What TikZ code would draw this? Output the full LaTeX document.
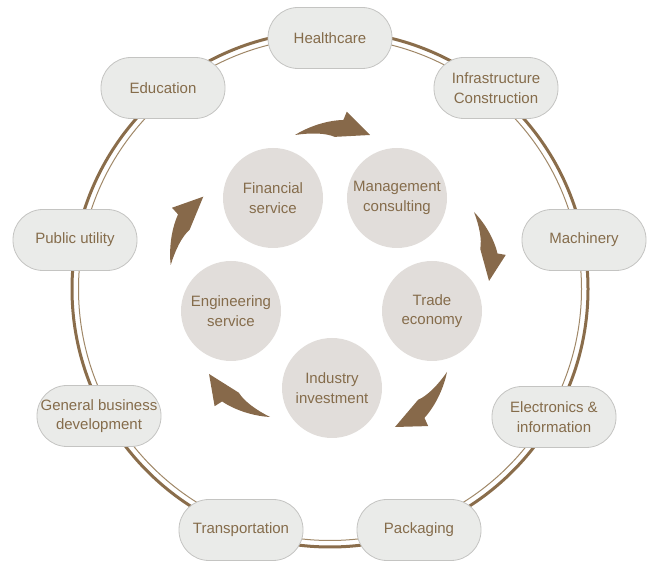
\documentclass[tikz,border=0pt]{standalone}
\usepackage{fontspec}
\setmainfont{Liberation Sans}
\definecolor{txt}{HTML}{856C4B}
\definecolor{arr}{HTML}{87694A}
\definecolor{ringc}{HTML}{8A6D4B}
\definecolor{ringthin}{HTML}{A08868}
\definecolor{pillfill}{HTML}{EAEBE9}
\definecolor{pilldraw}{HTML}{C4C4C2}
\definecolor{circfill}{HTML}{E1DDDA}
\newcommand\fatarr[3]{\fill[arr, shift={(#1)}, rotate=#2, scale=#3] (0,0) .. controls (0.15,0.095) and (0.4,0.195) .. (0.645,0.2) -- (0.69,0.31) -- (1,0) -- (0.53,-0.025) .. controls (0.4,0.03) and (0.2,0.03) .. cycle;}
\begin{document}
\begin{tikzpicture}[x=1pt,y=1pt,
  pill/.style={draw=pilldraw, line width=0.8pt, fill=pillfill, rounded corners=30pt,
    minimum width=124pt, minimum height=61pt, text=txt, align=center,
    font=\fontsize{15}{19.5}\selectfont, inner sep=0pt},
  bubble/.style={circle, fill=circfill, minimum size=100pt, text=txt, align=center,
    font=\fontsize{15}{19.5}\selectfont, inner sep=0pt}]
\useasboundingbox (0,0) rectangle (648,561);
\coordinate (ctr) at (330,272);
\draw[ringc, line width=3pt] (ctr) circle (258);
\draw[ringthin, line width=1pt] (ctr) circle (251.5);

\node[pill] (health) at (330,523) {Healthcare};
\node[pill] (infra) at (496,473) {Infrastructure\\Construction};
\node[pill] (edu) at (163,473) {Education};
\node[pill] (mach) at (584,321) {Machinery};
\node[pill] (pub) at (75,321) {Public utility};
\node[pill] (elec) at (554,144) {Electronics \&\\information};
\node[pill] (gen) at (99,145) {General business\\development};
\node[pill] (trans) at (241,31) {Transportation};
\node[pill] (pack) at (419,31) {Packaging};

\node[bubble] (fin) at (273,363) {Financial\\service};
\node[bubble] (mgmt) at (397,363) {Management\\consulting};
\node[bubble] (trade) at (432,250) {Trade\\economy};
\node[bubble] (eng) at (231,250) {Engineering\\service};
\node[bubble] (ind) at (332,173) {Industry\\investment};

\coordinate (a1) at (295,426);
\coordinate (a2) at (474,349);
\coordinate (a3) at (447,189);
\coordinate (a4) at (270,144);
\coordinate (a5) at (170.7,296);
\fatarr{a1}{0}{75}
\fatarr{a2}{-77.7}{70.6}
\fatarr{a3}{-133.4}{75.7}
\fatarr{a4}{144.8}{74.6}
\fatarr{a5}{64.5}{75.7}
\end{tikzpicture}
\end{document}
